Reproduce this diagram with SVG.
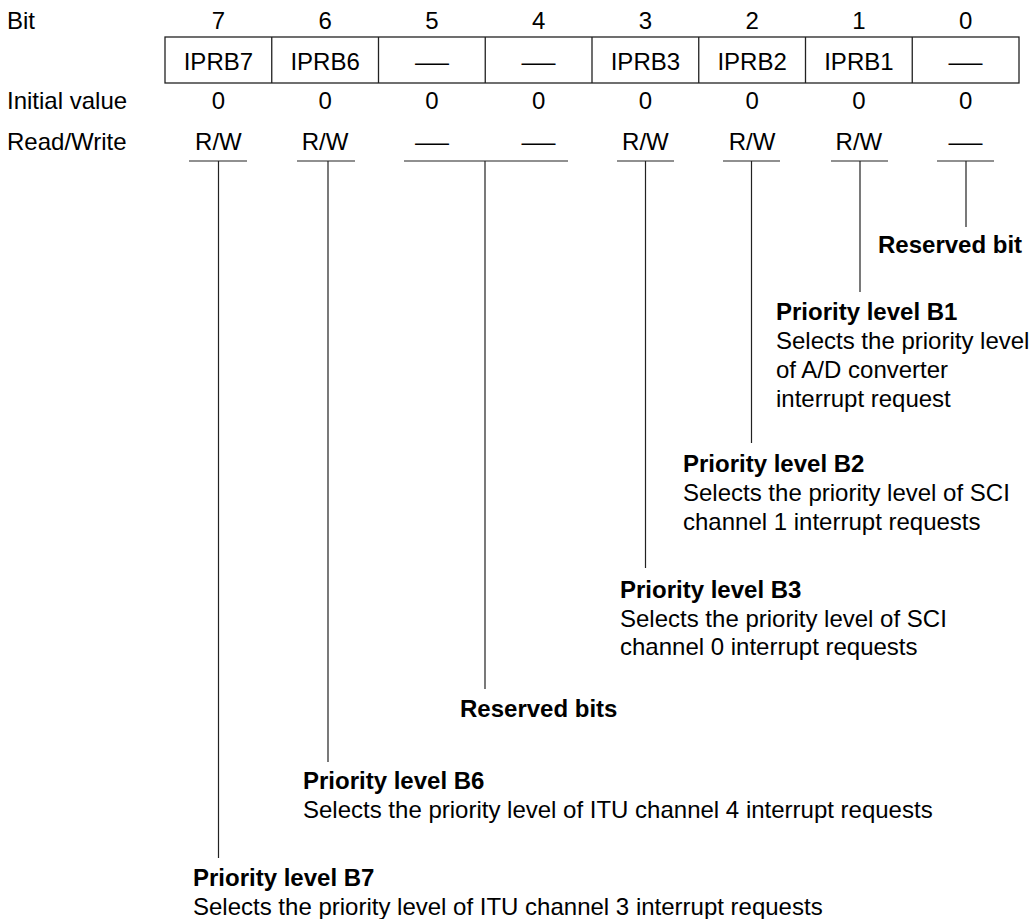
<svg xmlns="http://www.w3.org/2000/svg" width="1032" height="919" viewBox="0 0 1032 919">
<style>
text{font-family:"Liberation Sans",Arial,sans-serif;font-size:24px;fill:#000}
.c{text-anchor:middle}
.b{font-weight:bold}
.box{fill:none;stroke:#222;stroke-width:1.3}
.ln{stroke:#222;stroke-width:1.2;fill:none}
</style>
<rect width="1032" height="919" fill="#fff"/>
<g id="labels">
<text x="7" y="29">Bit</text>
<text x="7" y="109">Initial value</text>
<text x="7" y="150">Read/Write</text>
</g>
<g id="bitnums">
<text class="c" x="218.4" y="29">7</text>
<text class="c" x="325.1" y="29">6</text>
<text class="c" x="431.9" y="29">5</text>
<text class="c" x="538.6" y="29">4</text>
<text class="c" x="645.4" y="29">3</text>
<text class="c" x="752.1" y="29">2</text>
<text class="c" x="858.9" y="29">1</text>
<text class="c" x="965.6" y="29">0</text>
</g>
<g id="register">
<rect class="box" x="165" y="37" width="854" height="46"/>
<path class="box" d="M271.75 37V83M378.5 37V83M485.25 37V83M592 37V83M698.75 37V83M805.5 37V83M912.25 37V83"/>
<text class="c" x="218.4" y="70">IPRB7</text>
<text class="c" x="325.1" y="70">IPRB6</text>
<text class="c" x="431.9" y="70" textLength="34" lengthAdjust="spacingAndGlyphs">—</text>
<text class="c" x="538.6" y="70" textLength="34" lengthAdjust="spacingAndGlyphs">—</text>
<text class="c" x="645.4" y="70">IPRB3</text>
<text class="c" x="752.1" y="70">IPRB2</text>
<text class="c" x="858.9" y="70">IPRB1</text>
<text class="c" x="965.6" y="70" textLength="34" lengthAdjust="spacingAndGlyphs">—</text>
</g>
<g id="initial">
<text class="c" x="218.4" y="109">0</text>
<text class="c" x="325.1" y="109">0</text>
<text class="c" x="431.9" y="109">0</text>
<text class="c" x="538.6" y="109">0</text>
<text class="c" x="645.4" y="109">0</text>
<text class="c" x="752.1" y="109">0</text>
<text class="c" x="858.9" y="109">0</text>
<text class="c" x="965.6" y="109">0</text>
</g>
<g id="rw">
<text class="c" x="218.4" y="150">R/W</text>
<text class="c" x="325.1" y="150">R/W</text>
<text class="c" x="431.9" y="150" textLength="34" lengthAdjust="spacingAndGlyphs">—</text>
<text class="c" x="538.6" y="150" textLength="34" lengthAdjust="spacingAndGlyphs">—</text>
<text class="c" x="645.4" y="150">R/W</text>
<text class="c" x="752.1" y="150">R/W</text>
<text class="c" x="858.9" y="150">R/W</text>
<text class="c" x="965.6" y="150" textLength="34" lengthAdjust="spacingAndGlyphs">—</text>
</g>
<g id="connectors">
<path class="ln" d="M189 161H247M218.5 161V858"/>
<path class="ln" d="M297 161H355M328 161V762"/>
<path class="ln" d="M404 161H568M485 161V689"/>
<path class="ln" d="M617 161H674M645.5 161V568"/>
<path class="ln" d="M723 161H780M751.5 161V443"/>
<path class="ln" d="M831 161H888M860 161V292"/>
<path class="ln" d="M937 161H994M966 161V227"/>
</g>
<g id="reserved-bit0">
<text class="b" x="878" y="253">Reserved bit</text>
</g>
<g id="priority-b1">
<text class="b" x="776" y="320">Priority level B1</text>
<text x="776" y="349">Selects the priority level</text>
<text x="776" y="378">of A/D converter</text>
<text x="776" y="407">interrupt request</text>
</g>
<g id="priority-b2">
<text class="b" x="683" y="472">Priority level B2</text>
<text x="683" y="501">Selects the priority level of SCI</text>
<text x="683" y="530">channel 1 interrupt requests</text>
</g>
<g id="priority-b3">
<text class="b" x="620" y="598">Priority level B3</text>
<text x="620" y="627">Selects the priority level of SCI</text>
<text x="620" y="655">channel 0 interrupt requests</text>
</g>
<g id="reserved-bits54">
<text class="b" x="460" y="717">Reserved bits</text>
</g>
<g id="priority-b6">
<text class="b" x="303" y="789">Priority level B6</text>
<text x="303" y="818">Selects the priority level of ITU channel 4 interrupt requests</text>
</g>
<g id="priority-b7">
<text class="b" x="193" y="886">Priority level B7</text>
<text x="193" y="915">Selects the priority level of ITU channel 3 interrupt requests</text>
</g>
</svg>
